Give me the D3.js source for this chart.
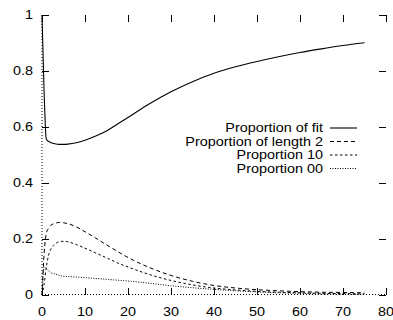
<!DOCTYPE html>
<html>
<head>
<meta charset="utf-8">
<script src="https://cdn.jsdelivr.net/npm/d3@7"></script>
<style>
  body { margin: 0; background: #fff; }
  text { font-family: "Liberation Sans", Arial, sans-serif; font-size: 12px; fill: #000; }
</style>
</head>
<body>
<div id="chart"></div>
<script>
// Values
const xValues = [0, 0.5, 1, 1.5, 2, 3, 4, 5, 6, 8, 10, 12.5, 15, 17.5, 20, 25, 30, 35, 40, 45, 50, 55, 60, 65, 70, 75];
const fitValues = [1, 0.72, 0.556, 0.549, 0.545, 0.54, 0.538, 0.538, 0.539, 0.544, 0.553, 0.568, 0.586, 0.61, 0.634, 0.683, 0.726, 0.762, 0.792, 0.815, 0.834, 0.851, 0.866, 0.879, 0.891, 0.901];
const len2Values = [0, 0.15, 0.22, 0.238, 0.248, 0.256, 0.259, 0.258, 0.255, 0.243, 0.226, 0.203, 0.179, 0.156, 0.134, 0.098, 0.07, 0.049, 0.034, 0.025, 0.019, 0.015, 0.012, 0.01, 0.009, 0.008];
const prop10Values = [0, 0.04, 0.1, 0.14, 0.162, 0.182, 0.19, 0.192, 0.19, 0.18, 0.167, 0.15, 0.133, 0.115, 0.1, 0.073, 0.052, 0.036, 0.025, 0.018, 0.013, 0.01, 0.008, 0.006, 0.005, 0.004];
const prop00Values = [0, 0.1, 0.095, 0.087, 0.08, 0.075, 0.07, 0.067, 0.066, 0.064, 0.062, 0.059, 0.056, 0.053, 0.05, 0.042, 0.033, 0.026, 0.02, 0.015, 0.011, 0.008, 0.006, 0.004, 0.003, 0.002];
const seriesNames = ["Proportion of fit", "Proportion of length 2", "Proportion 10", "Proportion 00"];
const xTicks = [0, 10, 20, 30, 40, 50, 60, 70, 80];
const yTicks = [0, 0.2, 0.4, 0.6, 0.8, 1];

const width = 393, height = 320;
const svg = d3.select("#chart").append("svg")
    .attr("width", width)
    .attr("height", height);

const x = d3.scaleLinear().domain([0, 80]).range([42, 386]);
const y = d3.scaleLinear().domain([0, 1]).range([295, 15]);
const tickLen = 7;
const stretch = "scale(1.2,1)";

// dotted zero axes
svg.append("line")
    .attr("x1", x(0)).attr("x2", x(0)).attr("y1", y(1)).attr("y2", y(0))
    .attr("stroke", "#000").attr("stroke-width", 1).attr("stroke-dasharray", "1,2");
svg.append("line")
    .attr("x1", x(0)).attr("x2", x(80)).attr("y1", y(0) - 0.5).attr("y2", y(0) - 0.5)
    .attr("stroke", "#000").attr("stroke-width", 1).attr("stroke-dasharray", "1,2");

// tick marks, mirrored on all four sides (no border)
const ticks = svg.append("g").attr("stroke", "#000").attr("stroke-width", 1);
xTicks.forEach(t => {
    const px = Math.round(x(t)) + 0.5;
    ticks.append("line").attr("x1", px).attr("x2", px).attr("y1", y(0)).attr("y2", y(0) - tickLen);
    ticks.append("line").attr("x1", px).attr("x2", px).attr("y1", y(1)).attr("y2", y(1) + tickLen);
});
yTicks.forEach(t => {
    const py = Math.round(y(t)) + 0.5;
    ticks.append("line").attr("x1", x(0)).attr("x2", x(0) + tickLen).attr("y1", py).attr("y2", py);
    ticks.append("line").attr("x1", x(80)).attr("x2", x(80) - tickLen).attr("y1", py).attr("y2", py);
});

// tick labels
svg.append("g").selectAll("text")
    .data(xTicks)
    .enter().append("text")
    .attr("text-anchor", "middle")
    .attr("transform", d => `translate(${x(d)},315.5) ${stretch}`)
    .text(d => d);

svg.append("g").selectAll("text")
    .data(yTicks)
    .enter().append("text")
    .attr("text-anchor", "end")
    .attr("transform", d => `translate(33,${y(d) + 4.3}) ${stretch}`)
    .text(d => d);

// series
const series = [
    { name: seriesNames[0], values: fitValues, dash: null, width: 1.1 },
    { name: seriesNames[1], values: len2Values, dash: "4,3", width: 1 },
    { name: seriesNames[2], values: prop10Values, dash: "2.5,2.5", width: 1 },
    { name: seriesNames[3], values: prop00Values, dash: "1,1.5", width: 1 }
];

const line = d3.line()
    .x((d, i) => x(xValues[i]))
    .y(d => y(d))
    .curve(d3.curveMonotoneX);

series.forEach(s => {
    svg.append("path")
        .datum(s.values)
        .attr("fill", "none")
        .attr("stroke", "#000")
        .attr("stroke-width", s.width)
        .attr("stroke-dasharray", s.dash)
        .attr("d", line);
});

// legend
const legend = svg.append("g");
series.forEach((s, i) => {
    const ly = 128 + i * 13.5;
    legend.append("text")
        .attr("text-anchor", "end")
        .attr("transform", `translate(323,${ly + 4.3}) ${stretch}`)
        .text(s.name);
    legend.append("line")
        .attr("x1", 330).attr("x2", 357)
        .attr("y1", ly).attr("y2", ly)
        .attr("stroke", "#000")
        .attr("stroke-width", s.width)
        .attr("stroke-dasharray", s.dash);
});
</script>
</body>
</html>
